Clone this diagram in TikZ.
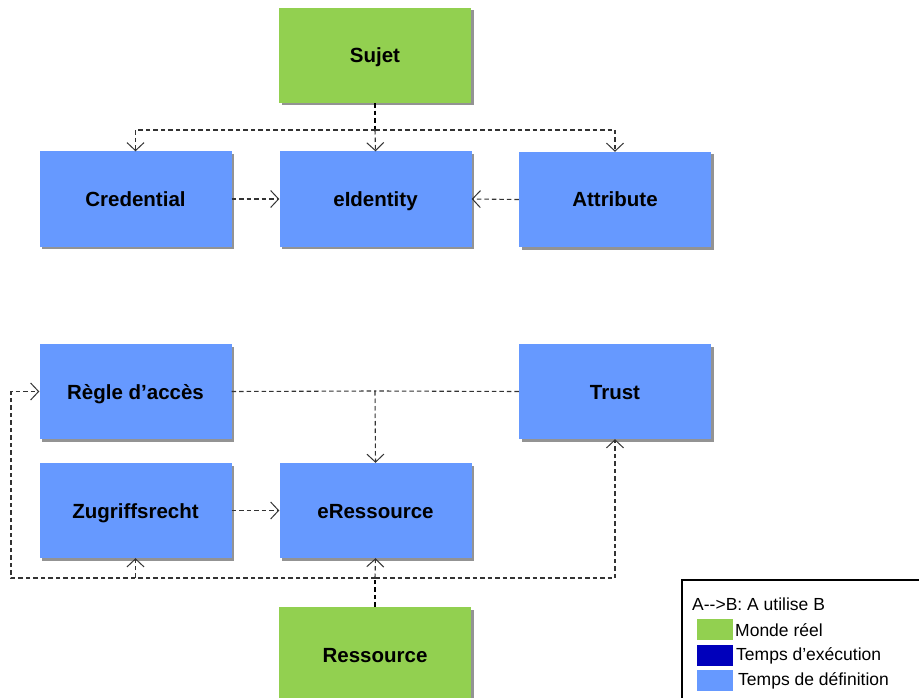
\documentclass[tikz,border=0pt]{standalone}
\usepackage{fontspec}
\setmainfont{Liberation Sans}
\usetikzlibrary{arrows.meta,shadows}
\definecolor{realworld}{HTML}{92D050}
\definecolor{runtime}{HTML}{0000BB}
\definecolor{deftime}{HTML}{6699FF}
\definecolor{linegray}{HTML}{333333}
\tikzset{
  box/.style={rectangle, minimum width=192pt, minimum height=95pt, inner sep=0pt,
    text height=15pt, text depth=0pt,
    font=\fontsize{20.5}{24}\selectfont\bfseries,
    drop shadow={shadow xshift=2.5pt, shadow yshift=-2.5pt, fill=gray!85, opacity=1}},
  realbox/.style={box, fill=realworld},
  defbox/.style={box, fill=deftime},
  link/.style={draw=linegray, line width=1.1pt, dash pattern=on 4.5pt off 3pt},
  stub/.style={draw=black, line width=1.6pt, dash pattern=on 4.5pt off 3pt},
  uses/.style={link, -{Straight Barb[length=8pt,width=17pt,line width=1pt]}},
  swatch/.style={rectangle, minimum width=36pt, minimum height=21pt, inner sep=0pt},
  legtext/.style={anchor=west, inner sep=0pt, font=\fontsize{17.5}{20}\selectfont}
}
\begin{document}
\begin{tikzpicture}[x=1pt, y=-1pt]
\useasboundingbox (0,0) rectangle (919,698);
\clip (0,0) rectangle (919,698);
\fill[white] (0,0) rectangle (919,698);

% boxes
\node[realbox] (sujet) at (375,55.5) {Sujet};
\node[defbox] (cred) at (135.5,199) {Credential};
\node[defbox] (eid) at (375.5,199) {eIdentity};
\node[defbox] (attr) at (615,199.5) {Attribute};
\node[defbox] (regle) at (135.5,391.5) {Règle d’accès};
\node[defbox] (trust) at (615,391.5) {Trust};
\node[defbox] (zug) at (135.5,510.5) {Zugriffsrecht};
\node[defbox] (eres) at (375.5,510.5) {eRessource};
\node[realbox] (res) at (375,654.5) {Ressource};

% junction points
\coordinate (sj) at (375,130);
\coordinate (rt) at (375,391);
\coordinate (rb) at (375,578);
\coordinate (lb) at (11,578);

% subject links
\draw[stub] (sujet.south) -- (sj);
\draw[uses] (sj) -| (cred.north);
\draw[uses] (sj) -- (eid.north);
\draw[uses] (sj) -| (attr.north);
\draw[uses] (cred.east) -- (eid.west);
\draw[uses] (attr.west) -- (eid.east);

% resource links
\draw[link] (regle.east) -- (rt);
\draw[link] (trust.west) -- (rt);
\draw[uses] (rt) -- (eres.north);
\draw[uses] (zug.east) -- (eres.west);
\draw[stub] (res.north) -- (rb);
\draw[uses] (rb) -- (eres.south);
\draw[uses] (rb) -| (zug.south);
\draw[uses] (rb) -| (trust.south);
\draw[uses] (rb) -- (lb) |- (regle.west);

% legend
\draw[black, line width=1.5pt] (682,580) rectangle (940,720);
\node[legtext] (legA) at (692,604) {A-{}-{}>B: A utilise B};
\node[swatch, fill=realworld] (sw1) at (715,629.5) {};
\node[swatch, fill=runtime] (sw2) at (715,655.5) {};
\node[swatch, fill=deftime] (sw3) at (715,680.5) {};
\node[legtext] (leg1) at (735,630) {Monde réel};
\node[legtext] (leg2) at (736,656) {Temps d’exécution};
\node[legtext] (leg3) at (738,681) {Temps de définition};
\end{tikzpicture}
\end{document}
